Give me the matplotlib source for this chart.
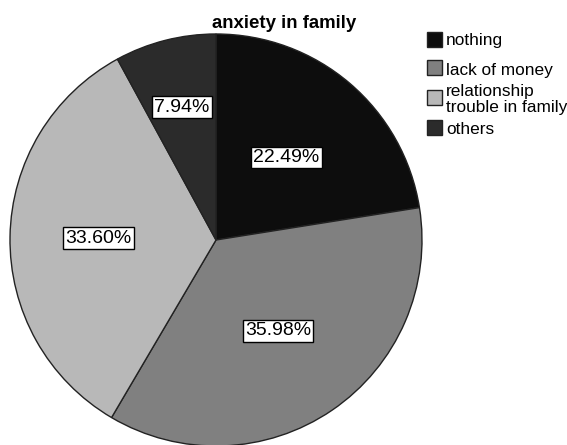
import matplotlib
matplotlib.use("Agg")
import matplotlib.pyplot as plt
from matplotlib.patches import Rectangle
import numpy as np

plt.rcParams['font.family'] = ['Liberation Sans', 'DejaVu Sans']

categories = ["nothing", "lack of money", "relationship\ntrouble in family", "others"]
values = [22.49, 35.98, 33.60, 7.94]
colors = ["#0d0d0d", "#808080", "#b8b8b8", "#2b2b2b"]
label_radius = [0.527, 0.534, 0.57, 0.666]

W, H = 567, 445
fig = plt.figure(figsize=(W / 100, H / 100), dpi=100)
cx, cy, r = 216, 240, 206
ax = fig.add_axes([(cx - r) / W, (H - cy - r) / H, 2 * r / W, 2 * r / H])

wedges, texts = ax.pie(values, colors=colors, startangle=90, counterclock=False,
                       wedgeprops=dict(edgecolor="#222222", linewidth=1.0))
ax.set_xlim(-1, 1)
ax.set_ylim(-1, 1)
ax.set_aspect('auto')
ax.axis('off')

for w, v, rr in zip(wedges, values, label_radius):
    ang = np.deg2rad((w.theta1 + w.theta2) / 2)
    ax.text(rr * np.cos(ang), rr * np.sin(ang), f"{v:.2f}%", ha='center', va='center',
            fontsize=14, color='black',
            bbox=dict(boxstyle='square,pad=0.12', facecolor='white', edgecolor='black', linewidth=1))

fig.text(284 / W, 1 - 23 / H, "anxiety in family", ha='center', va='center',
         fontsize=13.4, fontweight='bold')

# legend drawn manually to match original spacing
sq_centers = [39.5, 67.5, 97, 127]
txt_centers = [41, 70, 99.5, 130]
for cat, col, sy, ty in zip(categories, colors, sq_centers, txt_centers):
    fig.patches.append(Rectangle((427 / W, 1 - (sy + 7.5) / H), 15 / W, 15 / H,
                                 transform=fig.transFigure, facecolor=col,
                                 edgecolor='#222222', linewidth=1))
    fig.text(446 / W, 1 - ty / H, cat, ha='left', va='center', fontsize=12.4,
             linespacing=1.02)

fig.savefig("out.png", dpi=100)
